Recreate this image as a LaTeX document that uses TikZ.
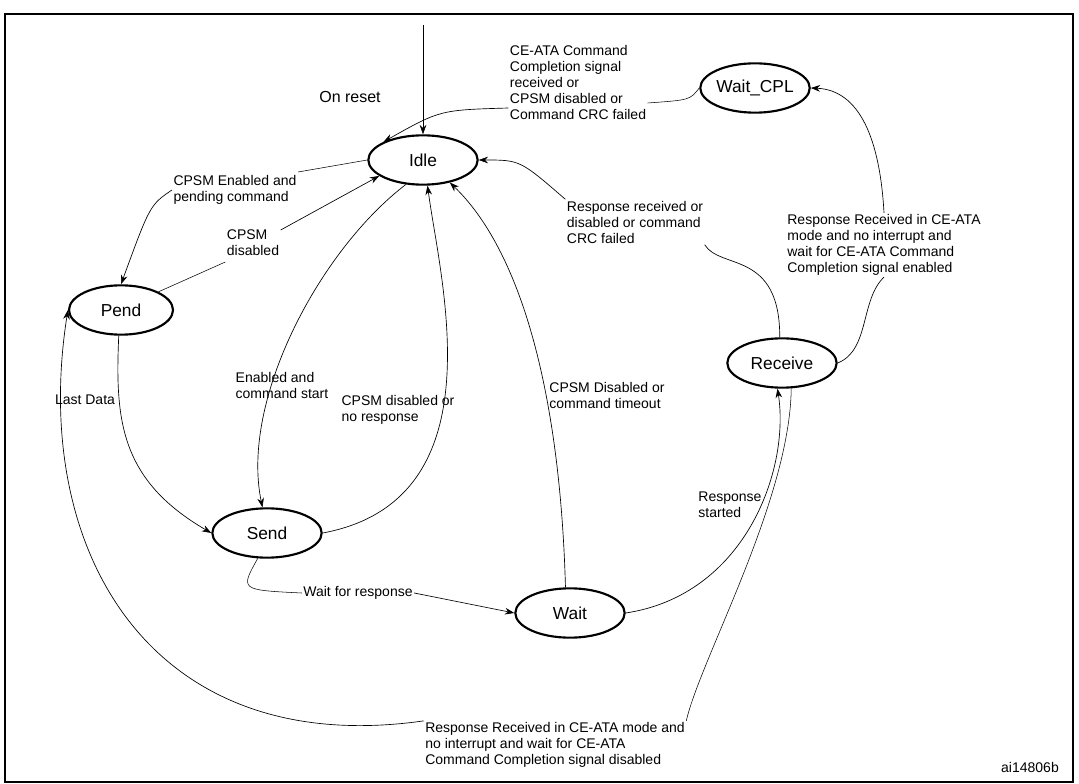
\documentclass[tikz,border=0pt]{standalone}
\usepackage{fontspec}
\setmainfont{Liberation Sans}
\usetikzlibrary{shapes.geometric,arrows.meta}
\tikzset{
  state/.style={ellipse,draw,line width=1.6pt,minimum width=82pt,minimum height=37pt,inner sep=0pt,font=\fontsize{13}{15}\selectfont},
  lbl/.style={align=left,font=\fontsize{10.5}{12}\selectfont,inner sep=1pt},
  tr/.style={-{Stealth[length=7pt,width=5pt]},line width=0.5pt}
}
\begin{document}
\begin{tikzpicture}[x=0.75pt,y=-0.75pt]
\useasboundingbox (0,0) rectangle (1079,784);
\draw[line width=1.2pt] (5,14) rectangle (1073,782);
% states
\node[state] (idle) at (423,160) {Idle};
\node[state] (wcpl) at (755,88) {Wait\_CPL};
\node[state,minimum width=78pt] (pend) at (121,310) {Pend};
\node[state] (recv) at (782,363) {Receive};
\node[state] (send) at (267,533) {Send};
\node[state] (wait) at (570,613) {Wait};
% labels
\node[lbl,font=\fontsize{12}{14}\selectfont] (l0) at (350,97) {On reset};
\node[lbl] (l1) at (578,82) {CE-ATA Command\\Completion signal\\received or\\CPSM disabled or\\Command CRC failed};
\node[lbl] (l2) at (235,190) {CPSM Enabled and\\pending command};
\node[lbl] (l3) at (253,243) {CPSM\\disabled};
\node[lbl] (l4) at (282,385) {Enabled and\\command start};
\node[lbl] (l5) at (398,410) {CPSM disabled or\\no response};
\node[lbl] (l6) at (607,395) {CPSM Disabled or\\command timeout};
\node[lbl] (l7) at (635,222) {Response received or\\disabled or command\\CRC failed};
\node[lbl] (l8) at (884,245) {Response Received in CE-ATA\\mode and no interrupt and\\wait for CE-ATA Command\\Completion signal enabled};
\node[lbl] (l9) at (85,400) {Last Data};
\node[lbl] (l10) at (358,593) {Wait for response};
\node[lbl] (l11) at (730,505) {Response\\started};
\node[lbl] (l12) at (555,745) {Response Received in CE-ATA mode and\\no interrupt and wait for CE-ATA\\Command Completion signal disabled};
\node[lbl] (ref) at (1030,767) {ai14806b};
\coordinate (top) at (423,25);
% transitions
\draw[tr] (top) -- (idle);
\draw (wcpl.west) .. controls (690,100) .. (l1.east |- 0,103);
\draw[tr] (l1.west |- 0,108) .. controls (440,110) .. (idle.north west);
\draw (idle.west) -- (l2.east |- 0,172);
\draw[tr] (l2.west) .. controls (150,205) .. (pend.north);
\draw (pend.north east) -- (l3.west |- 0,262);
\draw[tr] (l3.east |- 0,230) -- (idle.200);
\draw[tr] (idle.235) .. controls (320,250) and (240,400) .. (send.100);
\draw[tr] (send.east) .. controls (500,500) and (440,280) .. (idle.280);
\draw[tr] (wait.100) .. controls (560,390) and (520,250) .. (idle.320);
\draw[tr] (recv.95) .. controls (780,250) and (720,270) .. (l7.south east)
  (l7.north west) .. controls (520,160) .. (idle.east);
\draw[tr] (recv.east) .. controls (870,350) and (860,300) .. (l8.south)
  (l8.north) .. controls (880,140) and (860,90) .. (wcpl.east);
\draw[tr] (pend.265) .. controls (115,420) and (120,480) .. (send.west);
\draw (send.250) .. controls (240,590) .. (l10.west);
\draw[tr] (l10.east) -- (wait.west);
\draw[tr] (wait.east) .. controls (745,595) and (790,470) .. (recv.260);
\draw (recv.290) .. controls (790,500) and (700,660) .. (l12.north east);
\draw[tr] (l12.north west) .. controls (150,760) and (30,550) .. (pend.west);
\end{tikzpicture}
\end{document}
